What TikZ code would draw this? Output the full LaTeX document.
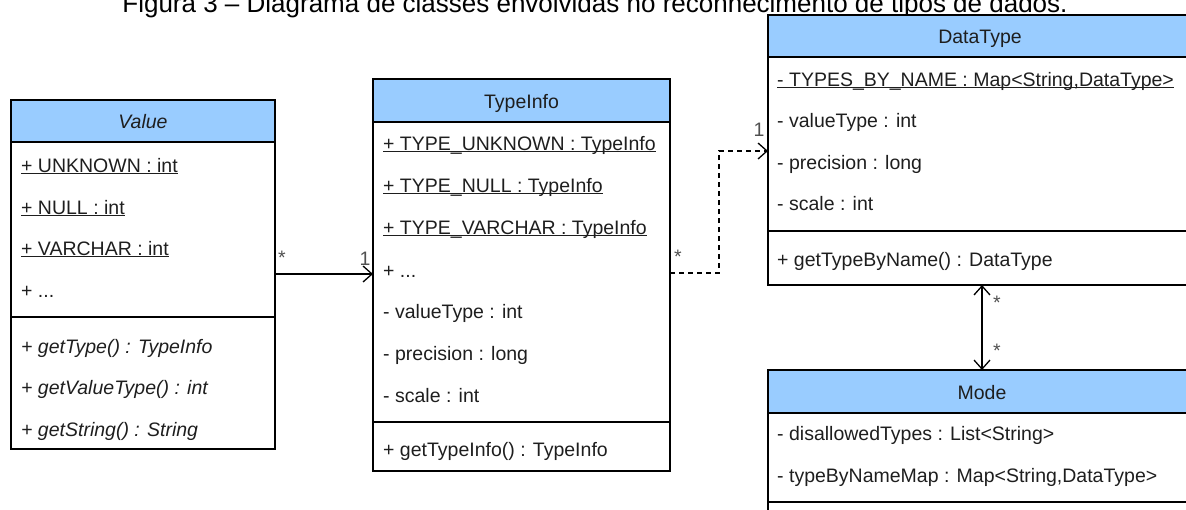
\documentclass[tikz,border=0pt]{standalone}
\usepackage{fontspec}
\setmainfont{Liberation Sans}
\usetikzlibrary{arrows.meta}

\definecolor{hdrblue}{RGB}{153,204,255}
\definecolor{txt}{RGB}{30,30,30}
\definecolor{multc}{RGB}{80,80,80}

% static members are underlined just below the baseline
\newsavebox\stmembox
\newcommand\statmem[1]{\sbox\stmembox{#1}\rlap{\rule[-2.4pt]{\wd\stmembox}{1.1pt}}\usebox\stmembox}

\begin{document}
\begin{tikzpicture}[x=1pt,y=-1pt,
  umlbox/.style={draw=black, line width=1.4pt, anchor=north west, inner sep=0pt, outer sep=0pt},
  umlhead/.style={umlbox, fill=hdrblue},
  bodyfont/.style={font=\fontsize{19.5}{23}\selectfont},
  row/.style={bodyfont, anchor=base west, inner sep=0pt, text=txt},
  title/.style={bodyfont, anchor=base, inner sep=0pt, text=txt},
  multlabel/.style={bodyfont, anchor=base, inner sep=0pt, text=multc},
  divider/.style={line width=1.4pt},
  barb/.tip={Straight Barb[length=9pt,width=16pt,line width=1.3pt]},
  assoc/.style={line width=1.3pt, -barb},
  dep/.style={line width=1.3pt, -barb, dash pattern=on 5pt off 4pt},
]
\useasboundingbox (0,0) rectangle (1186,509);
\clip (0,0) rectangle (1186,509);

% caption
\node[anchor=base, inner sep=0pt, font=\fontsize{26}{30}\selectfont] (caption) at (595,12)
  {Figura 3 – Diagrama de classes envolvidas no reconhecimento de tipos de dados.};

% ---------------- Value ----------------
\node[umlbox, minimum width=264pt, minimum height=349pt] (value) at (11,100) {};
\node[umlhead, minimum width=264pt, minimum height=42pt] (valueH) at (11,100) {};
\draw[divider] (value.west |- 0,317) -- (value.east |- 0,317);
\node[title] (valueT) at (143,128) {\itshape Value};
\node[row] (v1) at (21,172) {\statmem{+ UNKNOWN : int}};
\node[row] (v2) at (21,214) {\statmem{+ NULL : int}};
\node[row] (v3) at (21,255) {\statmem{+ VARCHAR : int}};
\node[row] (v4) at (21,297) {+ ...};
\node[row] (v5) at (21,353) {\itshape + getType() : TypeInfo};
\node[row] (v6) at (21,394) {\itshape + getValueType() : int};
\node[row] (v7) at (21,436) {\itshape + getString() : String};

% ---------------- TypeInfo ----------------
\node[umlbox, minimum width=297pt, minimum height=392pt] (typeinfo) at (373,79) {};
\node[umlhead, minimum width=297pt, minimum height=43pt] (typeinfoH) at (373,79) {};
\draw[divider] (typeinfo.west |- 0,422) -- (typeinfo.east |- 0,422);
\node[title] (typeinfoT) at (521.5,108) {TypeInfo};
\node[row] (t1) at (383,150) {\statmem{+ TYPE\_UNKNOWN : TypeInfo}};
\node[row] (t2) at (383,192) {\statmem{+ TYPE\_NULL : TypeInfo}};
\node[row] (t3) at (383,234) {\statmem{+ TYPE\_VARCHAR : TypeInfo}};
\node[row] (t4) at (383,277) {+ ...};
\node[row] (t5) at (383,318) {- valueType : int};
\node[row] (t6) at (383,360) {- precision : long};
\node[row] (t7) at (383,402) {- scale : int};
\node[row] (t8) at (383,456) {+ getTypeInfo() : TypeInfo};

% ---------------- DataType ----------------
\node[umlbox, minimum width=425pt, minimum height=270pt] (datatype) at (768,15) {};
\node[umlhead, minimum width=425pt, minimum height=42pt] (datatypeH) at (768,15) {};
\draw[divider] (datatype.west |- 0,231) -- (datatype.east |- 0,231);
\node[title] (datatypeT) at (980,43) {DataType};
\node[row] (d1) at (777,86) {\statmem{- TYPES\_BY\_NAME : Map<String,DataType>}};
\node[row] (d2) at (777,127) {- valueType : int};
\node[row] (d3) at (777,169) {- precision : long};
\node[row] (d4) at (777,210) {- scale : int};
\node[row] (d5) at (777,266) {+ getTypeByName() : DataType};

% ---------------- Mode ----------------
\node[umlbox, minimum width=428pt, minimum height=200pt] (mode) at (768,370) {};
\node[umlhead, minimum width=428pt, minimum height=43pt] (modeH) at (768,370) {};
\draw[divider] (mode.west |- 0,502) -- (mode.east |- 0,502);
\node[title] (modeT) at (982,399) {Mode};
\node[row] (m1) at (777,440) {- disallowedTypes : List<String>};
\node[row] (m2) at (777,482) {- typeByNameMap : Map<String,DataType>};

% ---------------- connectors ----------------
\draw[assoc] (value.east |- 0,274) -- (typeinfo.west |- 0,274);
\node[multlabel] (mValue) at (282,264) {*};
\node[multlabel] (mTypeInfo) at (365,265) {1};

\coordinate (elbow) at (719,0);
\draw[dep] (typeinfo.east |- 0,273) -| (elbow |- 0,151) -- (datatype.west |- 0,151);
\node[multlabel] (mDepFrom) at (678,263) {*};
\node[multlabel] (mDepTo) at (759,136) {1};

\coordinate (axis) at (982,0);
\draw[line width=1.3pt, barb-barb] (datatype.south -| axis) -- (mode.north -| axis);
\node[multlabel] (mDataType) at (997,309) {*};
\node[multlabel] (mMode) at (997,357) {*};
\end{tikzpicture}
\end{document}
